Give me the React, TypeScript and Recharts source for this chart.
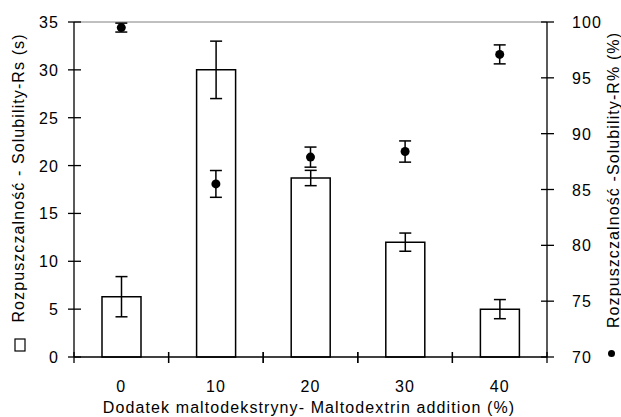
import React from "react";
import {
  ComposedChart, Bar, Line, XAxis, YAxis, ErrorBar, ReferenceLine, Label,
} from "recharts";

const categories = ["0", "10", "20", "30", "40"];
const rsValues = [6.3, 30, 18.7, 12, 5];
const rsErrors = [2.1, 3, 0.8, 0.95, 1.0];
const rValues = [99.5, 85.5, 87.9, 88.4, 97.1];
const rErrors = [0.4, 1.2, 0.9, 0.95, 0.85];
const leftTicks = [0, 5, 10, 15, 20, 25, 30, 35];
const rightTicks = [70, 75, 80, 85, 90, 95, 100];

const W = 621;
const H = 417;
const AXIS_W = 74;
const TOP = 22;
const X_H = 60;
const BAND = (W - 2 * AXIS_W) / categories.length;

const FONT = "'Liberation Sans', Arial, sans-serif";
const txt = { fontFamily: FONT, fontSize: 16, letterSpacing: 1.1, fill: "#000" };

const data = categories.map((c, i) => ({
  cat: c,
  rs: rsValues[i],
  rsErr: rsErrors[i],
  r: rValues[i],
  rErr: rErrors[i],
}));

function LeftTick(props: any) {
  const { x, y, payload } = props;
  return (
    <g>
      <line x1={x - 6} x2={x + 7} y1={y} y2={y} stroke="#000" strokeWidth={1.3} />
      <text x={x - 15} y={y + 6} textAnchor="end" style={txt}>{payload.value}</text>
    </g>
  );
}

function RightTick(props: any) {
  const { x, y, payload } = props;
  return (
    <g>
      <line x1={x - 6} x2={x + 7} y1={y} y2={y} stroke="#000" strokeWidth={1.3} />
      <text x={x + 25} y={y + 6} textAnchor="start" style={txt}>{payload.value}</text>
    </g>
  );
}

function BottomTick(props: any) {
  const { x, y, payload } = props;
  return (
    <g>
      <line x1={x - BAND / 2} x2={x - BAND / 2} y1={y - 5} y2={y + 6} stroke="#000" strokeWidth={1.3} />
      <line x1={x + BAND / 2} x2={x + BAND / 2} y1={y - 5} y2={y + 6} stroke="#000" strokeWidth={1.3} />
      <text x={x} y={y + 35} textAnchor="middle" style={txt}>{payload.value}</text>
    </g>
  );
}

function XTitle() {
  return (
    <text x={309} y={413} textAnchor="middle" style={txt}>
      Dodatek maltodekstryny- Maltodextrin addition (%)
    </text>
  );
}

function LeftTitle() {
  return (
    <g>
      <text x={23.5} y={178} transform="rotate(-90, 23.5, 178)" textAnchor="middle" style={txt}>
        Rozpuszczalność - Solubility-Rs (s)
      </text>
      <rect x={15} y={339} width={10} height={12} fill="none" stroke="#000" strokeWidth={1.2} />
    </g>
  );
}

function RightTitle() {
  return (
    <g>
      <text x={618.5} y={180} transform="rotate(-90, 618.5, 180)" textAnchor="middle" style={txt}>
        Rozpuszczalność -Solubility-R% (%)
      </text>
      <circle cx={611.5} cy={353.5} r={3.5} fill="#000" />
    </g>
  );
}

export default function App() {
  return (
    <div style={{ position: "absolute", left: 0, top: 0, width: W, height: H, background: "#fff" }}>
      <ComposedChart
        width={W}
        height={H}
        data={data}
        margin={{ top: TOP, right: 0, bottom: 0, left: 0 }}
      >
        <XAxis
          dataKey="cat"
          height={X_H}
          axisLine={{ stroke: "#000", strokeWidth: 1.3 }}
          tickLine={false}
          tickSize={0}
          tickMargin={0}
          tick={<BottomTick />}
          interval={0}
        >
          <Label content={<XTitle />} />
        </XAxis>
        <YAxis
          yAxisId="left"
          orientation="left"
          width={AXIS_W}
          domain={[0, 35]}
          ticks={leftTicks}
          axisLine={{ stroke: "#000", strokeWidth: 1.3 }}
          tickLine={false}
          tickSize={0}
          tickMargin={0}
          tick={<LeftTick />}
          interval={0}
        >
          <Label content={<LeftTitle />} />
        </YAxis>
        <YAxis
          yAxisId="right"
          orientation="right"
          width={AXIS_W}
          domain={[70, 100]}
          ticks={rightTicks}
          axisLine={{ stroke: "#000", strokeWidth: 1.3 }}
          tickLine={false}
          tickSize={0}
          tickMargin={0}
          tick={<RightTick />}
          interval={0}
        >
          <Label content={<RightTitle />} />
        </YAxis>
        <ReferenceLine yAxisId="left" y={35} stroke="#808080" strokeWidth={1} />
        <Bar
          yAxisId="left"
          dataKey="rs"
          barSize={39}
          fill="#fff"
          stroke="#000"
          strokeWidth={1.5}
          isAnimationActive={false}
        >
          <ErrorBar dataKey="rsErr" width={6} stroke="#000" strokeWidth={1.5} direction="y" />
        </Bar>
        <Line
          yAxisId="right"
          dataKey="r"
          stroke="none"
          dot={{ r: 4.5, fill: "#000", stroke: "#000", strokeWidth: 0 }}
          activeDot={false}
          isAnimationActive={false}
        >
          <ErrorBar dataKey="rErr" width={6} stroke="#000" strokeWidth={1.5} direction="y" />
        </Line>
      </ComposedChart>
    </div>
  );
}
